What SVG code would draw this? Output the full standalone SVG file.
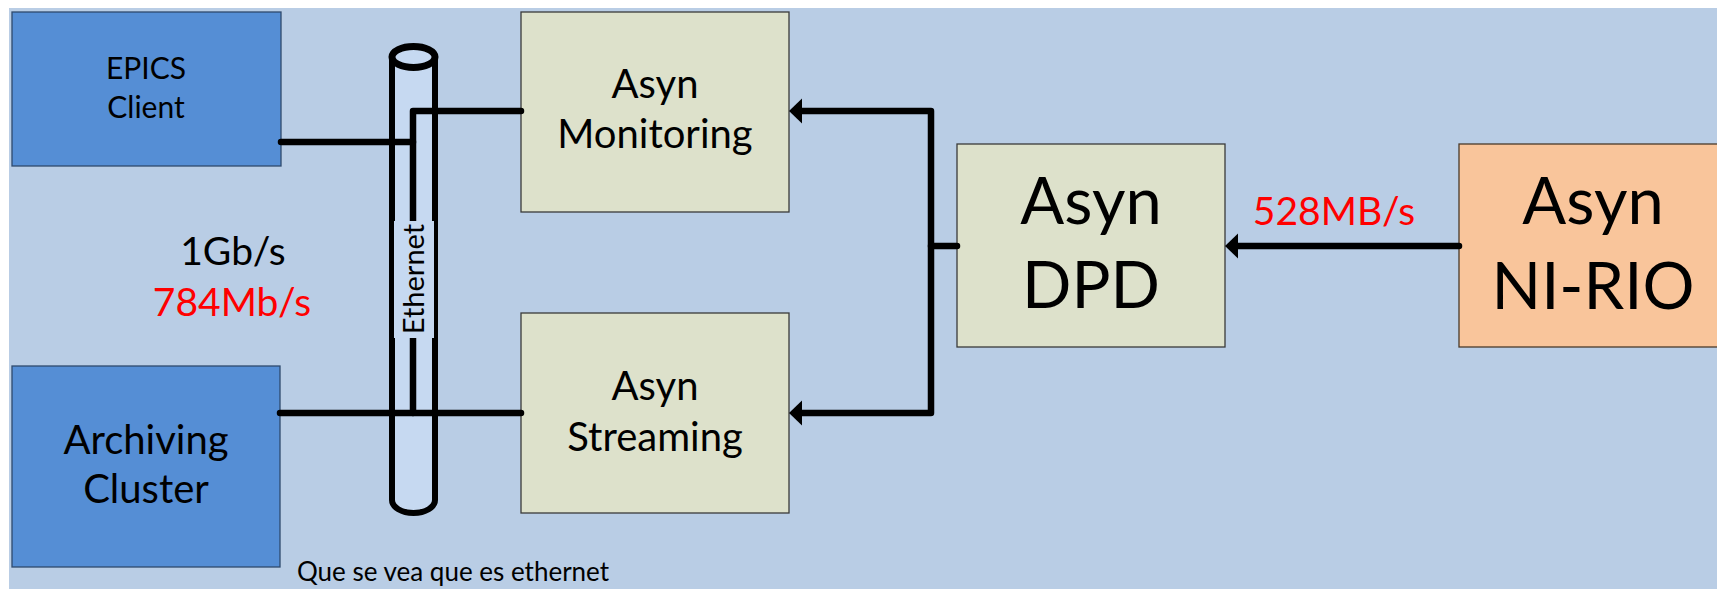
<svg xmlns="http://www.w3.org/2000/svg" width="1717" height="589" viewBox="0 0 1717 589">
<style>
text{font-family:Lato,"Liberation Sans",sans-serif;fill:#000;text-anchor:middle}
.blue{fill:#558ED5;stroke:#2F4A6E;stroke-width:1.3}
.olive{fill:#DDE1CB;stroke:#3A3A3A;stroke-width:1.3}
.orange{fill:#F9C59B;stroke:#4A3A2A;stroke-width:1.3}
.wire{fill:none;stroke:#000;stroke-width:6.5;stroke-linecap:round;stroke-linejoin:round}
.ah{fill:#000}
.red{fill:#FF0000}
.m{font-size:40px}
.b{font-size:65px}
</style>
<rect x="0" y="0" width="1717" height="589" fill="#FFFFFF"/>
<rect x="9" y="8" width="1708" height="581" fill="#B9CDE5"/>

<g id="epics-client">
<rect class="blue" x="12" y="12" width="269" height="154"/>
<text x="146" y="79" font-size="30">EPICS</text>
<text x="146" y="118" font-size="30">Client</text>
</g>
<g id="archiving-cluster">
<rect class="blue" x="12" y="366" width="268" height="201"/>
<text class="m" x="146" y="454">Archiving</text>
<text class="m" x="146" y="503">Cluster</text>
</g>
<g id="asyn-monitoring">
<rect class="olive" x="521" y="12" width="268" height="200"/>
<text class="m" x="655" y="98">Asyn</text>
<text class="m" x="655" y="148">Monitoring</text>
</g>
<g id="asyn-streaming">
<rect class="olive" x="521" y="313" width="268" height="200"/>
<text class="m" x="655" y="400">Asyn</text>
<text class="m" x="655" y="451">Streaming</text>
</g>
<g id="asyn-dpd">
<rect class="olive" x="957" y="144" width="268" height="203"/>
<text class="b" x="1091" y="224">Asyn</text>
<text class="b" x="1091" y="308">DPD</text>
</g>
<g id="asyn-ni-rio">
<rect class="orange" x="1459" y="144" width="270" height="203"/>
<text class="b" x="1593" y="224">Asyn</text>
<text class="b" x="1593" y="309">NI-RIO</text>
</g>

<g id="ethernet-tube">
<path d="M392,57 V500 A21.5,13 0 0 0 435,500 V57 Z" fill="#C6D9F1"/>
<path d="M392,57 V500 A21.5,13 0 0 0 435,500 V57" fill="none" stroke="#000" stroke-width="6"/>
<ellipse cx="413.5" cy="57" rx="21.5" ry="10.5" fill="#C6D9F1" stroke="#000" stroke-width="7"/>
</g>

<g id="connectors">
<path class="wire" d="M281,142 H413"/>
<path class="wire" d="M413,413 V111 H521"/>
<path class="wire" d="M280,413 H521"/>
<path class="wire" d="M957,246 H931"/>
<path class="wire" d="M797,111 H931 V413 H797"/>
<path class="wire" d="M1459,246 H1233"/>
<polygon class="ah" points="789,111 802,98.5 802,123.5"/>
<polygon class="ah" points="789,413 802,400.5 802,425.5"/>
<polygon class="ah" points="1225,246 1238,233.5 1238,258.5"/>
</g>

<g id="ethernet-label">
<rect x="394" y="221" width="40" height="117" fill="#C6D9F1"/>
<text x="0" y="0" font-size="29" transform="translate(424,279) rotate(-90)">Ethernet</text>
</g>

<g id="labels">
<text x="233" y="265" font-size="39">1Gb/s</text>
<text class="red" x="232" y="316" font-size="39">784Mb/s</text>
<text class="red" x="1334" y="225" font-size="39">528MB/s</text>
<text x="297" y="581" font-size="26" style="text-anchor:start">Que se vea que es ethernet</text>
</g>
</svg>
